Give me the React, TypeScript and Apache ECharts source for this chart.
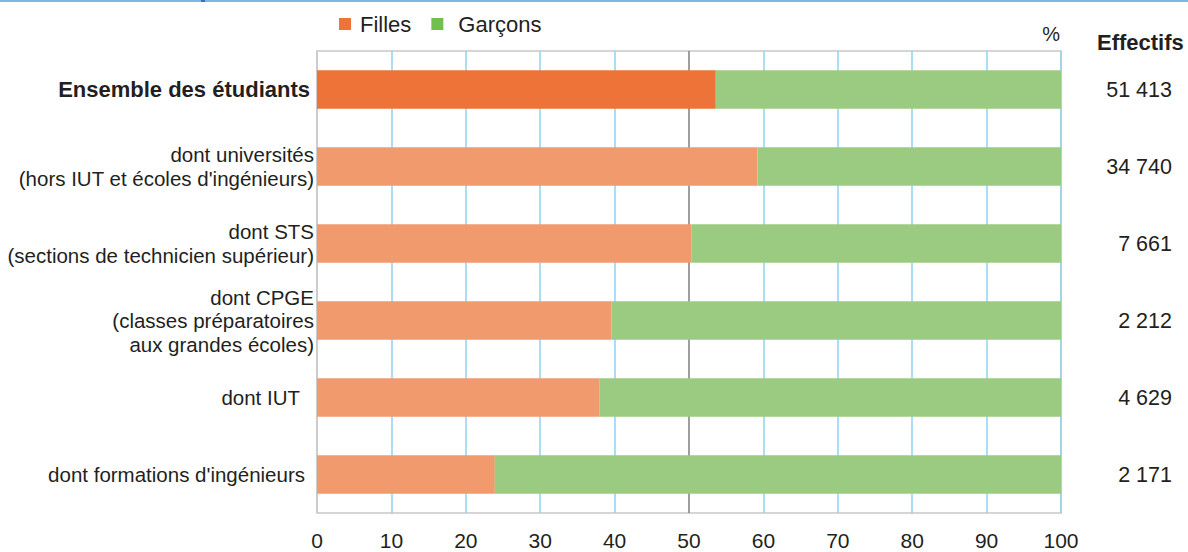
import React, { useEffect, useRef } from "react";
import * as echarts from "echarts";

const categories = [
  "Ensemble des étudiants",
  "dont universités\n(hors IUT et écoles d'ingénieurs)",
  "dont STS\n(sections de technicien supérieur)",
  "dont CPGE\n(classes préparatoires\naux grandes écoles)",
  "dont IUT",
  "dont formations d'ingénieurs",
];
const filles = [53.6, 59.2, 50.3, 39.6, 38.0, 23.9];
const garcons = [46.4, 40.8, 49.7, 60.4, 62.0, 76.1];
const effectifs = ["51 413", "34 740", "7 661", "2 212", "4 629", "2 171"];
const seriesNames = ["Filles", "Garçons"];

const FONT = '"Liberation Sans", Arial, sans-serif';
const TEXT = "#231f20";
const BLUE = "#8fd3f2";

export default function App() {
  const ref = useRef<HTMLDivElement>(null);
  useEffect(() => {
    if (!ref.current) return;
    const chart = echarts.init(ref.current, undefined, { renderer: "svg" });
    const splitColors = [
      "#c8c8c8",
      BLUE, BLUE, BLUE, BLUE,
      "#7f7f7f",
      BLUE, BLUE, BLUE, BLUE, BLUE,
    ];
    chart.setOption({
      animation: false,
      textStyle: { fontFamily: FONT },
      grid: {
        left: 317,
        right: 127,
        top: 51,
        bottom: 39,
        show: true,
        borderColor: "#c8c8c8",
        borderWidth: 1.5,
        backgroundColor: "transparent",
      },
      legend: {
        data: [
          { name: seriesNames[0] },
          { name: seriesNames[1], textStyle: { padding: [0, 0, 0, 10] } },
        ],
        left: 339,
        top: 13,
        padding: 0,
        itemWidth: 12,
        itemHeight: 12,
        itemGap: 20,
        icon: "rect",
        selectedMode: false,
        textStyle: { fontSize: 22, color: TEXT, fontFamily: FONT, padding: [0, 0, 0, 4] },
      },
      xAxis: {
        type: "value",
        min: 0,
        max: 100,
        interval: 10,
        axisLine: { show: false },
        axisTick: { show: false },
        axisLabel: { fontSize: 21, color: TEXT, margin: 17, fontFamily: FONT },
        splitLine: { show: true, lineStyle: { color: splitColors, width: 1.5 } },
      },
      yAxis: [
        {
          type: "category",
          data: categories,
          inverse: true,
          axisLine: { show: false },
          axisTick: { show: false },
          splitLine: { show: false },
          axisLabel: {
            margin: 3,
            fontSize: 20.5,
            lineHeight: 23.5,
            color: TEXT,
            fontFamily: FONT,
            align: "right",
            formatter: (v: string, i: number) => {
              if (i === 0) return `{b|${v}}`;
              if (v === "dont IUT") return `{iut|${v}}`;
              if (v.startsWith("dont formations")) return `{ing|${v}}`;
              return v;
            },
            rich: {
              b: { fontSize: 22, fontWeight: "bold", color: TEXT, fontFamily: FONT, padding: [0, 4, 0, 0] },
              iut: { fontSize: 20.5, color: TEXT, fontFamily: FONT, padding: [0, 14, 0, 0] },
              ing: { fontSize: 20.5, color: TEXT, fontFamily: FONT, padding: [0, 9, 0, 0] },
            },
          },
        },
        {
          type: "category",
          data: effectifs,
          inverse: true,
          position: "right",
          axisLine: { show: false },
          axisTick: { show: false },
          splitLine: { show: false },
          axisLabel: {
            margin: 111,
            align: "right",
            fontSize: 21.5,
            color: TEXT,
            fontFamily: FONT,
          },
        },
      ],
      series: [
        {
          name: seriesNames[0],
          type: "bar",
          stack: "total",
          barWidth: "50%",
          color: "#ed7338",
          itemStyle: { color: "#ed7338" },
          data: filles.map((v, i) => ({
            value: v,
            itemStyle: { color: i === 0 ? "#ed7338" : "#f09a6e" },
          })),
        },
        {
          name: seriesNames[1],
          type: "bar",
          stack: "total",
          barWidth: "50%",
          color: "#72bf50",
          itemStyle: { color: "#72bf50" },
          data: garcons.map((v) => ({ value: v, itemStyle: { color: "#9bcb80" } })),
        },
      ],
      graphic: [
        { type: "rect", left: 0, top: 0, shape: { width: 1188, height: 2 }, style: { fill: "#7db8e3" } },
        { type: "rect", left: 201, top: 0, shape: { width: 4, height: 2 }, style: { fill: "#3a6fc0" } },
        {
          type: "text",
          x: 1060,
          y: 34,
          style: { text: "%", fontSize: 20, fontFamily: FONT, fill: TEXT, align: "right", verticalAlign: "middle" },
        },
        {
          type: "text",
          x: 1097,
          y: 42,
          style: {
            text: "Effectifs",
            fontSize: 22,
            fontWeight: "bold",
            fontFamily: FONT,
            fill: TEXT,
            align: "left",
            verticalAlign: "middle",
          },
        },
      ],
    });
    return () => chart.dispose();
  }, []);
  return (
    <div
      ref={ref}
      style={{ position: "fixed", left: 0, top: 0, width: 1188, height: 552, background: "#fff" }}
    />
  );
}
